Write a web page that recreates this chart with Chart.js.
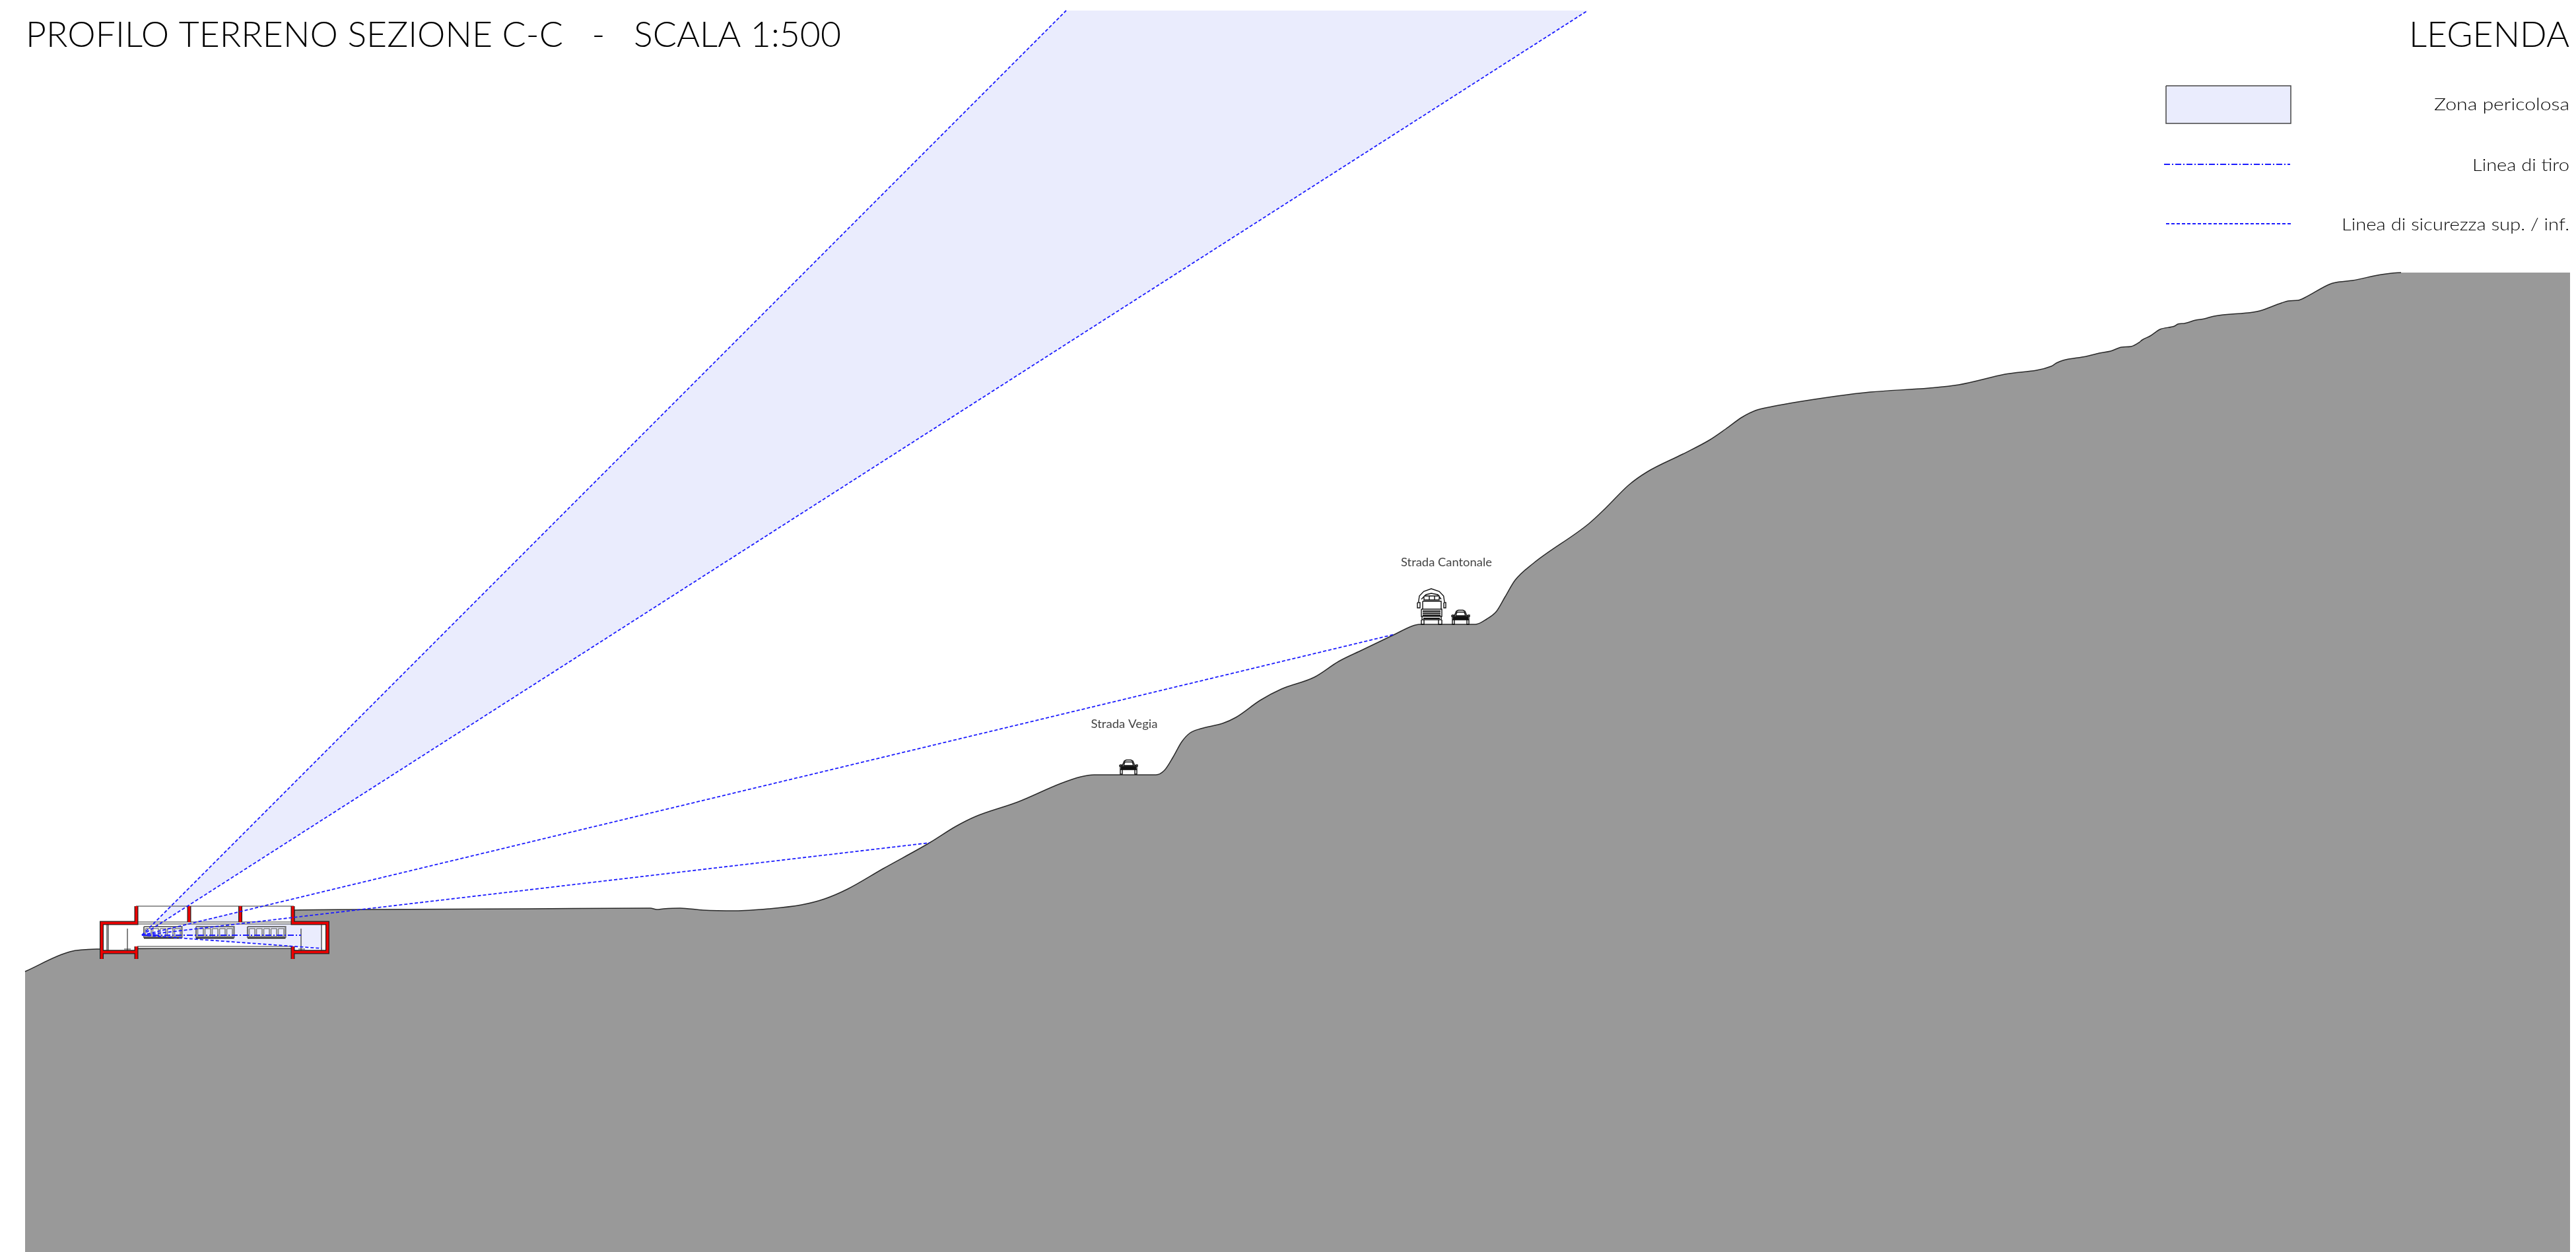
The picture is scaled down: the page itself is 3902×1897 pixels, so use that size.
<!DOCTYPE html>
<html>
<head>
<meta charset="utf-8">
<title>Profilo terreno sezione C-C</title>
<script src="https://cdn.jsdelivr.net/npm/chart.js@4/dist/chart.umd.min.js"></script>
<style>
	html, body { margin: 0; padding: 0; background: #fff; }
	canvas { display: block; }
</style>
</head>
<body>
<canvas id="myChart" width="3902" height="1897"></canvas>
<script>
// drawing units: 1 unit on each axis, y counted from the top of the sheet
var sheetWidth = 3902;
var sheetHeight = 1897;

var terrainX = [38,106,152,300,445,446,560,800,985,995,1005,1030,1065,1114,1164,1214,1249,1284,1338,1408,1448,1478,1542,1607,1637,1657,1751,1764,1777,1790,1802,1819,1852,1872,1909,1941,1991,2028,2063,2113,2138,2150,2235,2252,2267,2280,2295,2322,2406,2432,2467,2495,2549,2589,2614,2639,2659,2684,2783,2833,2922,2967,3037,3107,3115,3125,3160,3180,3197,3214,3228,3240,3245,3257,3272,3294,3299,3309,3326,3339,3354,3413,3423,3456,3466,3481,3491,3528,3538,3563,3607,3637,3893];
var terrainY = [1472,1442,1438,1437,1437,1379,1378,1377,1376,1378,1377,1376,1379,1380,1377,1371,1362,1347,1316,1277,1252,1237,1215,1187,1177,1174,1174,1167,1147,1124,1111,1104,1096,1087,1061,1044,1026,1002,985,961,949,946,946,938,926,904,879,854,794,770,735,715,688,667,650,632,622,616,600,594,588,583,567,555,550,546,540,535,532,526,525,519,515,509,499,494,491,490,485,483,479,473,471,459,456,455,451,431,428,425,416,413,413];

// firing lines, all from the same muzzle point
var muzzle = [215, 1417];
var fanTopY = 16;
var fanUpperX = 1615;
var fanLowerX = 2405;
var shotHighEnd = [2113, 961];
var shotLowEnd = [1408, 1277];
var shotDownEnd = [487, 1437];
var aimEnd = [456, 1417];

// building section, null breaks the line
var wallX = [154,154,206.5,206.5,null,154,206.5,null,206.5,206.5,null,286.5,286.5,null,364,364,null,443.5,443.5,496,496,443.5,null,443.5,443.5];
var wallY = [1453,1398.5,1398.5,1373,null,1442.5,1442.5,null,1434,1453,null,1373,1397,null,1373,1397,null,1373,1398.5,1398.5,1442.5,1442.5,null,1434,1453];
var wireX = [206,445,null,208,442,null,156,494,null,208,442,null,208,442,null,162,162,null,164,164,null,487,487,null,494,494,null,156,205,null,445,494,null,193,193,null,186,200,null,188,198,null,456,456,null,450,464,null,452,462];
var wireY = [1373,1373,null,1397,1397,null,1400,1400,null,1434,1434,null,1437,1437,null,1400,1441,null,1400,1441,null,1400,1441,null,1400,1441,null,1440,1440,null,1440,1440,null,1407,1440,null,1440,1440,null,1438,1438,null,1407,1440,null,1440,1440,null,1438,1438];

// targets
var targetLeft = [218, 297, 375];
var targetPanels = 5;

// vehicles, offsets from the left end of the vehicle at road level
var carX = [1,1,4,4,null,23,23,26,26,null,1,26,26,1,1,null,4,7,10,17,20,23,null,6,8,19,21,6,null,0,3,3,0,0,null,24,27,27,24,24];
var carY = [-8,0,0,-8,null,-8,0,0,-8,null,-12,-12,-7,-7,-12,null,-13,-20,-21.5,-21.5,-20,-13,null,-13,-18.5,-18.5,-13,-13,null,-14,-14,-12,-12,-14,null,-14,-14,-12,-12,-14];
var carBarX = [2,25,null,2,25];
var carBarY = [-10.5,-10.5,null,-8,-8];
var truckX = [1.7,3,9.7,21,33,39.7,41,null,6,13,21,31,36,null,10,33,33,10,10,null,18,18,null,26,26,null,8,36,36,8,8,null,0,4,4,0,0,null,40,43,43,40,40,null,6,37,37,6,6,null,7,36,36,7,7,null,6,6,10,10,null,32,32,37,37];
var truckY = [-34,-43,-50,-54,-50,-43,-34,null,-38,-45,-47,-45,-38,null,-43,-43,-37,-37,-43,null,-43,-37,null,-43,-37,null,-35,-35,-23,-23,-35,null,-33,-33,-25,-25,-33,null,-33,-33,-25,-25,-33,null,-23,-23,-12,-12,-23,null,-12,-12,-7,-7,-12,null,-7,0,0,-7,null,-7,0,0,-7];
var truckBarX = [8,35,null,8,35,null,8,35,null,9,34];
var truckBarY = [-20,-20,null,-17,-17,null,-14,-14,null,-9,-9];
var carPlaces = [[1696, 1173], [2199, 946]];
var truckPlace = [2147, 946];

// legend
var legendBoxX = [3281, 3470];
var legendBoxY = [130, 187];
var legendAimX = [3278, 3469];
var legendAimY = 249;
var legendSafeX = [3281, 3471];
var legendSafeY = 339;

var titleText = 'PROFILO TERRENO SEZIONE C-C   -   SCALA 1:500';
var legendTitle = 'LEGENDA';
var legendLabels = ['Zona pericolosa', 'Linea di tiro', 'Linea di sicurezza sup. / inf.'];
var placeLabels = ['Strada Vegia', 'Strada Cantonale'];

var zoneColor = '#eaecfd';
var shotColor = '#1c1cff';
var shotDash = [5, 3];
var aimDash = [9, 3, 2, 3];

function zip(xs, ys, dx, dy) {
	var pts = [];
	for (var i = 0; i < xs.length; i++) {
		if (xs[i] === null) {
			pts.push({x: null, y: null});
		} else {
			pts.push({x: xs[i] + (dx || 0), y: ys[i] + (dy || 0)});
		}
	}
	return pts;
}

var datasets = [];

function line(pts, color, width, dash) {
	datasets.push({
		data: pts,
		showLine: true,
		fill: false,
		pointRadius: 0,
		borderColor: color,
		borderWidth: width,
		borderDash: dash || [],
		borderCapStyle: 'butt',
		tension: 0
	});
}

// area between two lines that run left to right
function band(upper, lower, color) {
	datasets.push({data: lower, showLine: true, pointRadius: 0, borderWidth: 0, borderColor: 'transparent', backgroundColor: color, fill: '+1'});
	datasets.push({data: upper, showLine: true, pointRadius: 0, borderWidth: 0, borderColor: 'transparent', fill: false});
}

function shot(end) {
	line([{x: muzzle[0], y: muzzle[1]}, {x: end[0], y: end[1]}], shotColor, 1.8, shotDash);
}

// terrain, filled down to the bottom of the sheet
datasets.push({
	data: zip(terrainX, terrainY),
	showLine: true,
	pointRadius: 0,
	backgroundColor: '#999999',
	fill: 'start',
	borderColor: '#2a2a2a',
	borderWidth: 1.5,
	cubicInterpolationMode: 'monotone',
	segment: {
		borderColor: function(ctx) {
			return ctx.p0.parsed.x >= 3637 ? 'rgba(0,0,0,0)' : undefined;
		}
	}
});

// danger zone above the building
band(
	[{x: muzzle[0], y: muzzle[1]}, {x: fanUpperX, y: fanTopY}, {x: fanLowerX, y: fanTopY}],
	[{x: muzzle[0], y: muzzle[1]}, {x: fanLowerX, y: fanTopY}],
	zoneColor
);

// inside of the building is white
band(
	zip([152, 498], [1397, 1397]),
	zip([152, 208, 208, 442, 442, 498], [1443, 1443, 1437, 1437, 1443, 1443]),
	'#ffffff'
);
// danger zone inside the range
band(
	zip([215, 286, 487], [1417, 1400, 1400]),
	zip([215, 487], [1417, 1437]),
	zoneColor
);
band(
	zip([290, 362], [1397, 1382]),
	zip([290, 362], [1397, 1397]),
	zoneColor
);

// targets
targetLeft.forEach(function(left) {
	var frame = zip([left, left + 57.5, left + 57.5, left, left], [1404, 1404, 1420, 1420, 1404]);
	line(frame, '#707070', 2.2);
	var panels = [];
	for (var p = 0; p < targetPanels; p++) {
		var px = left + 2.5 + p * 11;
		panels = panels.concat(zip([px, px + 8.5, px + 8.5, px, px, null], [1407, 1407, 1419, 1419, 1407, null]));
	}
	line(panels, '#808080', 1.6);
	line(zip([left, left + 57.5], [1421.5, 1421.5]), '#111111', 1.3);
});

line(zip(wireX, wireY), '#333333', 1.2);
line(zip(wallX, wallY), '#222222', 6);
line(zip(wallX, wallY), '#ee0000', 3.6);

// firing lines
line([{x: muzzle[0], y: muzzle[1]}, {x: fanUpperX, y: fanTopY}], shotColor, 1.8, shotDash);
shot([fanLowerX, fanTopY]);
shot(shotHighEnd);
shot(shotLowEnd);
shot(shotDownEnd);
line([{x: muzzle[0], y: muzzle[1]}, {x: aimEnd[0], y: aimEnd[1]}], shotColor, 1.8, aimDash);

// vehicles
carPlaces.forEach(function(place) {
	line(zip(carX, carY, place[0], place[1]), '#111111', 1.4);
	line(zip(carBarX, carBarY, place[0], place[1]), '#111111', 2.4);
});
line(zip(truckX, truckY, truckPlace[0], truckPlace[1]), '#111111', 1.4);
line(zip(truckBarX, truckBarY, truckPlace[0], truckPlace[1]), '#111111', 2);

// legend swatches
band(
	zip(legendBoxX, [legendBoxY[0], legendBoxY[0]]),
	zip(legendBoxX, [legendBoxY[1], legendBoxY[1]]),
	zoneColor
);
line(zip(
	[legendBoxX[0], legendBoxX[1], legendBoxX[1], legendBoxX[0], legendBoxX[0]],
	[legendBoxY[0], legendBoxY[0], legendBoxY[1], legendBoxY[1], legendBoxY[0]]
), '#444444', 1.5);
line(zip(legendAimX, [legendAimY, legendAimY]), shotColor, 1.8, aimDash);
line(zip(legendSafeX, [legendSafeY, legendSafeY]), shotColor, 1.8, shotDash);

// first dataset in the list is painted first
datasets.forEach(function(ds, i) {
	ds.order = datasets.length - i;
});

// text is stretched to the width it has on the sheet
function fitText(chart, text, x, y, weight, size, width, align, color) {
	var c = chart.ctx;
	var px = chart.scales.x.getPixelForValue(x);
	var py = chart.scales.y.getPixelForValue(y);
	c.save();
	c.font = weight + ' ' + size + 'px Lato, "Noto Sans", sans-serif';
	c.fillStyle = color;
	c.textBaseline = 'alphabetic';
	c.textAlign = align;
	var k = width / c.measureText(text).width;
	c.translate(px, py);
	c.scale(k, 1);
	c.fillText(text, 0, 0);
	c.restore();
}

var sheetText = {
	id: 'sheetText',
	afterDatasetsDraw: function(chart) {
		fitText(chart, titleText, 39, 71, 300, 53, 1235, 'left', '#000000');
		fitText(chart, legendTitle, 3892, 71, 300, 53, 243, 'right', '#000000');
		fitText(chart, legendLabels[0], 3892, 167, 300, 26, 205, 'right', '#000000');
		fitText(chart, legendLabels[1], 3892, 259, 300, 26, 147, 'right', '#000000');
		fitText(chart, legendLabels[2], 3892, 349, 300, 26, 345, 'right', '#000000');
		fitText(chart, placeLabels[0], 1703, 1103, 400, 18, 101, 'center', '#444444');
		fitText(chart, placeLabels[1], 2191, 858, 400, 18, 138, 'center', '#444444');
	}
};

var ctx = document.getElementById('myChart').getContext('2d');
var myChart = new Chart(ctx, {
	type: 'scatter',
	data: {datasets: datasets},
	plugins: [sheetText],
	options: {
		responsive: false,
		animation: false,
		devicePixelRatio: 1,
		events: [],
		layout: {padding: 0},
		plugins: {
			legend: {display: false},
			title: {display: false},
			tooltip: {enabled: false}
		},
		scales: {
			x: {type: 'linear', display: false, min: 0, max: sheetWidth},
			y: {type: 'linear', display: false, min: 0, max: sheetHeight, reverse: true}
		}
	}
});
</script>
</body>
</html>
